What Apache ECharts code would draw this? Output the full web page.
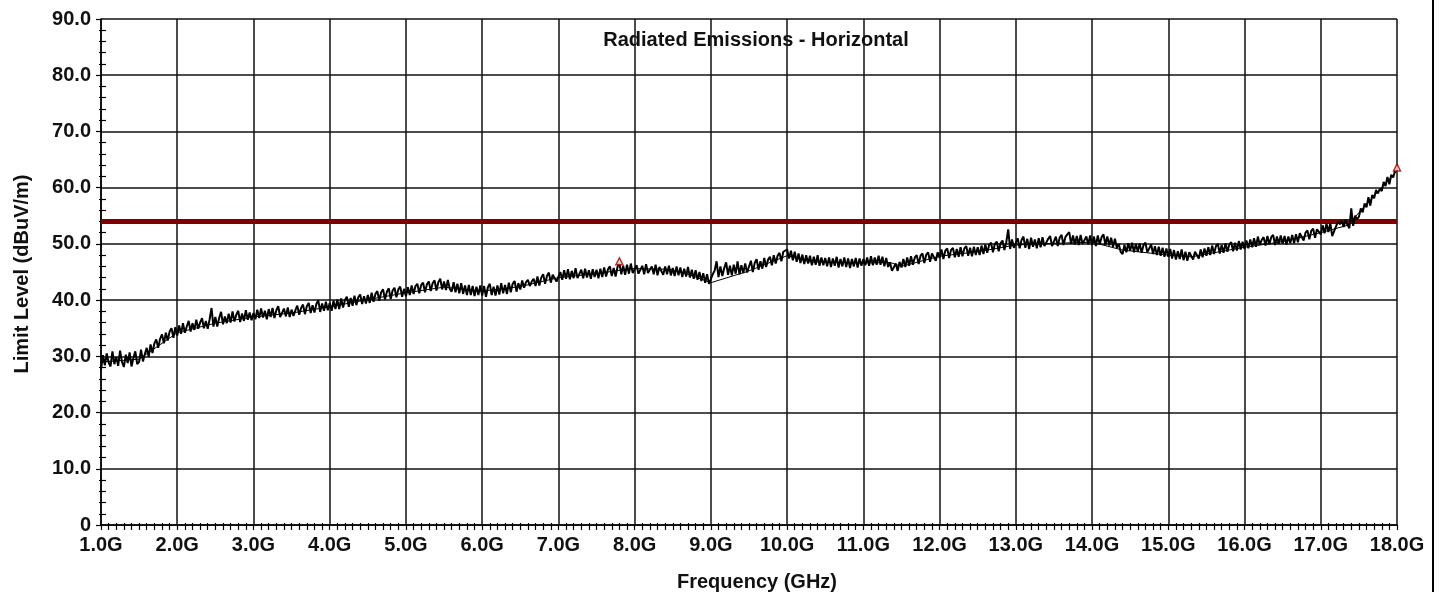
<!DOCTYPE html>
<html>
<head>
<meta charset="utf-8">
<title>Radiated Emissions - Horizontal</title>
<script src="https://cdn.jsdelivr.net/npm/echarts@6/dist/echarts.min.js"></script>
<style>
  html, body { margin: 0; padding: 0; background: #fff; }
  #chart { width: 1443px; height: 592px; }
</style>
</head>
<body>
<div id="chart"></div>
<script>
// Sweep settings: 1 GHz to 18 GHz in 25 MHz steps
const FREQ_START = 1.0;
const FREQ_STEP = 0.025;

// Measured level (dBuV/m), one row per 0.5 GHz
const level = [
  27.6, 30.2, 28.4, 30.5, 28.9, 28.2, 30.9, 28.6, 29.9, 28.3, 31.0, 29.0, 28.1, 30.3, 28.8, 30.7, 28.2, 29.7, 30.9, 28.6,
  29.0, 31.2, 29.1, 30.4, 31.5, 29.9, 32.1, 30.6, 32.3, 33.0, 31.5, 33.1, 33.9, 32.3, 34.2, 32.8, 34.4, 35.0, 33.3, 35.2,
  33.7, 35.5, 34.0, 35.9, 34.2, 35.3, 36.3, 34.4, 35.9, 34.7, 36.5, 34.9, 36.0, 36.8, 35.0, 36.3, 34.9, 36.6, 38.6, 35.3,
  37.0, 35.3, 36.8, 37.9, 35.7, 37.1, 35.9, 37.6, 36.0, 38.0, 36.2, 37.4, 38.1, 36.1, 37.6, 36.3, 38.2, 36.5, 37.8, 36.4,
  37.7, 36.6, 38.3, 36.8, 38.5, 36.9, 38.1, 36.6, 38.4, 37.0, 38.6, 36.8, 38.2, 38.9, 37.0, 36.9, 38.5, 37.1, 38.7, 37.0,
  38.3, 37.2, 38.2, 39.0, 37.4, 38.6, 39.2, 37.5, 38.9, 39.5, 37.7, 39.1, 37.8, 39.3, 40.0, 37.9, 39.4, 38.1, 39.7, 38.2,
  39.5, 38.1, 39.9, 38.4, 40.1, 38.4, 40.3, 38.7, 40.0, 40.6, 38.8, 40.4, 39.0, 40.8, 39.1, 40.5, 41.0, 39.3, 40.7, 39.4,
  40.9, 39.5, 41.3, 39.7, 41.1, 41.6, 39.9, 41.4, 41.9, 40.1, 41.5, 42.1, 40.2, 41.7, 42.2, 40.5, 41.9, 42.4, 40.6, 42.0,
  40.7, 42.3, 40.9, 42.6, 41.1, 42.5, 42.9, 41.2, 42.7, 43.1, 41.4, 42.8, 43.3, 41.6, 43.0, 43.5, 41.7, 43.2, 43.8, 41.9,
  43.3, 41.8, 43.6, 42.0, 41.5, 43.2, 41.4, 42.9, 41.2, 43.0, 41.1, 42.6, 40.9, 42.7, 40.9, 42.5, 40.7, 42.4, 40.9, 42.6,
  40.8, 42.5, 40.6, 42.3, 42.9, 40.9, 42.4, 40.8, 42.6, 41.0, 43.0, 41.2, 42.7, 41.1, 43.1, 41.4, 42.9, 43.4, 41.5, 43.0,
  41.9, 43.5, 42.2, 43.2, 43.6, 42.5, 43.3, 43.8, 42.5, 44.2, 42.6, 44.0, 44.6, 42.9, 44.3, 44.9, 43.1, 44.5, 44.8, 43.3,
  43.5, 45.0, 43.6, 45.3, 43.8, 45.5, 43.7, 45.2, 43.9, 45.7, 43.9, 43.8, 45.4, 43.9, 45.6, 44.0, 45.3, 43.8, 45.5, 44.1,
  45.4, 43.9, 45.6, 44.1, 45.8, 44.2, 45.5, 46.0, 44.3, 45.7, 44.2, 45.9, 46.6, 44.6, 46.1, 44.5, 46.3, 44.7, 46.5, 44.8,
  44.6, 46.2, 44.7, 44.4, 46.1, 44.6, 46.4, 44.8, 44.5, 46.0, 44.6, 46.3, 44.4, 45.9, 46.2, 44.5, 46.0, 44.6, 46.1, 44.4,
  45.7, 44.3, 46.0, 44.4, 45.8, 44.1, 45.6, 44.2, 45.9, 44.0, 45.4, 43.8, 45.3, 43.6, 45.0, 43.4, 44.8, 43.1, 44.6, 42.9,
  42.9, 44.6, 45.3, 46.9, 44.1, 46.0, 44.3, 45.7, 46.7, 44.5, 46.1, 44.4, 46.3, 44.7, 46.9, 44.6, 46.2, 44.8, 46.5, 44.9,
  45.2, 47.0, 45.0, 46.6, 47.3, 45.4, 46.9, 45.6, 47.5, 45.9, 47.2, 47.7, 46.2, 48.0, 46.5, 47.9, 48.4, 46.9, 48.6, 48.9,
  49.0, 47.4, 48.8, 47.1, 48.6, 46.8, 48.3, 46.6, 48.1, 46.4, 48.0, 46.5, 47.9, 46.2, 47.7, 46.3, 48.0, 46.1, 47.6, 46.2,
  47.5, 46.0, 47.6, 45.9, 47.4, 46.1, 47.7, 45.8, 47.3, 46.0, 47.6, 45.9, 47.4, 45.7, 47.3, 46.0, 47.5, 45.8, 47.4, 46.1,
  47.3, 46.2, 47.6, 46.1, 47.8, 46.2, 47.6, 46.3, 47.9, 46.3, 47.7, 46.0, 47.5, 45.9, 46.7, 45.2, 44.9, 46.5, 45.2, 46.8,
  45.8, 47.3, 45.9, 47.6, 46.1, 47.8, 46.3, 47.6, 48.0, 46.4, 47.9, 48.3, 46.6, 48.1, 48.5, 46.8, 48.3, 48.6, 47.0, 48.5,
  47.5, 49.0, 47.3, 48.8, 49.2, 47.5, 48.9, 49.3, 47.6, 49.1, 47.7, 49.4, 47.8, 49.2, 49.6, 47.9, 49.3, 47.8, 49.5, 48.0,
  49.4, 48.0, 49.7, 48.2, 49.9, 48.4, 49.8, 50.2, 48.5, 50.0, 50.4, 48.7, 50.1, 50.6, 48.9, 50.3, 52.6, 49.1, 50.8, 49.3,
  49.4, 51.0, 49.2, 50.7, 51.3, 49.3, 50.9, 49.1, 51.1, 49.5, 50.8, 49.2, 51.0, 49.4, 51.2, 49.6, 49.3, 50.9, 51.4, 49.6,
  49.7, 51.3, 49.6, 51.1, 51.6, 49.8, 51.2, 51.7, 52.1, 50.0, 51.5, 49.9, 51.4, 49.8, 51.6, 50.0, 49.7, 51.3, 49.9, 51.5,
  49.8, 51.3, 49.6, 51.5, 49.9, 51.2, 51.7, 49.8, 51.3, 49.7, 51.1, 49.5, 50.9, 49.3, 50.0, 48.6, 48.2, 49.8, 48.5, 50.1,
  48.8, 50.2, 48.5, 50.0, 48.6, 50.1, 48.4, 49.8, 50.2, 48.5, 48.3, 49.9, 48.2, 49.6, 48.0, 49.5, 47.9, 49.3, 47.7, 49.2,
  47.7, 49.1, 47.4, 48.9, 47.2, 48.7, 47.3, 49.0, 47.1, 48.6, 47.0, 48.5, 48.8, 47.2, 48.6, 48.9, 47.4, 49.0, 47.6, 49.2,
  47.9, 49.4, 48.0, 49.7, 48.2, 49.6, 50.0, 48.3, 49.8, 48.4, 50.1, 48.6, 49.9, 50.3, 48.7, 50.2, 48.8, 50.5, 49.0, 50.4,
  49.1, 50.6, 49.2, 50.8, 49.4, 51.0, 49.5, 51.3, 49.8, 50.7, 51.2, 49.7, 51.4, 49.9, 51.2, 51.6, 49.8, 51.3, 50.0, 51.5,
  50.0, 51.4, 49.9, 51.3, 50.1, 51.6, 50.1, 51.7, 50.3, 51.9, 52.1, 50.6, 52.0, 52.4, 50.8, 52.3, 52.7, 51.1, 52.6, 52.9,
  51.7, 53.3, 51.9, 53.6, 52.1, 53.7, 51.4, 51.1, 53.1, 53.9, 53.5, 54.1, 53.0, 54.3, 53.4, 52.8, 56.3, 53.2, 55.0, 54.4,
  54.8, 56.3, 55.6, 57.2, 56.5, 58.3, 56.8, 58.7, 58.1, 59.6, 59.0, 59.8, 59.4, 61.0, 60.3, 61.9, 60.6, 62.3, 61.8, 63.0,
  63.2
];

// Reduced trace (GHz, dBuV/m)
const reducedFreq  = [1.0, 1.5, 2.0, 2.5, 3.0, 3.5, 4.0, 4.5, 5.0, 5.5, 6.0, 6.5, 7.0, 7.5, 7.95, 8.45, 8.7, 9.0, 9.48, 10.0, 10.3, 11.0, 11.35, 11.5, 12.0, 12.5, 13.0, 13.5, 14.0, 14.4, 15.0, 15.3, 16.0, 16.5, 17.0, 17.35, 18.0];
const reducedLevel = [29.0, 29.5, 34.2, 35.9, 37.0, 37.7, 38.8, 40.1, 41.3, 42.3, 41.6, 42.4, 44.0, 44.7, 45.6, 45.5, 44.6, 43.1, 45.1, 47.9, 46.8, 46.6, 46.7, 46.0, 47.8, 48.6, 49.8, 50.1, 50.3, 48.9, 48.0, 47.7, 49.4, 50.4, 52.0, 53.3, 63.0];

// Peak markers
const peakFreq  = [7.8, 18.0];
const peakLevel = [46.9, 63.6];

// Limit line
const limitFreq  = [1.0, 18.0];
const limitLevel = [54.0, 54.0];

// Axis tick labels
const xTickLabels = ['1.0G', '2.0G', '3.0G', '4.0G', '5.0G', '6.0G', '7.0G', '8.0G', '9.0G',
  '10.0G', '11.0G', '12.0G', '13.0G', '14.0G', '15.0G', '16.0G', '17.0G', '18.0G'];
const yTickLabels = ['0', '10.0', '20.0', '30.0', '40.0', '50.0', '60.0', '70.0', '80.0', '90.0'];

const FONT = "'Liberation Sans', Arial, sans-serif";

const sweep = level.map((v, i) => [+(FREQ_START + i * FREQ_STEP).toFixed(3), v]);
const reduced = reducedFreq.map((f, i) => [f, reducedLevel[i]]);
const peaks = peakFreq.map((f, i) => [f, peakLevel[i]]);
const limit = limitFreq.map((f, i) => [f, limitLevel[i]]);

const chart = echarts.init(document.getElementById('chart'), null, { renderer: 'canvas' });

const labelStyle = { color: '#111', fontFamily: FONT, fontWeight: 'bold', fontSize: 20 };

const xBase = { type: 'value', min: 1, max: 18, interval: 1, position: 'bottom', gridIndex: 0 };
const yBase = { type: 'value', min: 0, max: 90, interval: 10, position: 'left', gridIndex: 0 };

chart.setOption({
  animation: false,
  backgroundColor: '#fff',
  grid: { left: 101, right: 46, top: 19, bottom: 67, containLabel: false },
  xAxis: [
    Object.assign({}, xBase, {
      axisLine: { show: true, lineStyle: { color: '#000', width: 1.5 } },
      axisTick: { show: true, inside: false, length: 5, lineStyle: { color: '#000', width: 1.2 } },
      minorTick: { show: true, splitNumber: 10, length: 5, lineStyle: { color: '#000', width: 1.2 } },
      axisLabel: Object.assign({}, labelStyle, {
        margin: 10,
        formatter: v => xTickLabels[Math.round(v - 1)] ?? ''
      }),
      splitLine: { show: true, lineStyle: { color: '#111', width: 1.5 } }
    }),
    Object.assign({}, xBase, {
      axisLine: { show: false },
      axisTick: { show: false, inside: true },
      minorTick: { show: true, splitNumber: 10, length: 2, lineStyle: { color: '#000', width: 1.2 } },
      axisLabel: { show: false },
      splitLine: { show: false }
    })
  ],
  yAxis: [
    Object.assign({}, yBase, {
      axisLine: { show: true, lineStyle: { color: '#000', width: 1.5 } },
      axisTick: { show: true, inside: false, length: 5, lineStyle: { color: '#000', width: 1.2 } },
      minorTick: { show: true, splitNumber: 5, length: 2, lineStyle: { color: '#000', width: 1.2 } },
      axisLabel: Object.assign({}, labelStyle, {
        margin: 10,
        formatter: v => yTickLabels[Math.round(v / 10)] ?? ''
      }),
      splitLine: { show: true, lineStyle: { color: '#111', width: 1.5 } }
    }),
    Object.assign({}, yBase, {
      axisLine: { show: false },
      axisTick: { show: false, inside: true },
      minorTick: { show: true, splitNumber: 5, length: 5, lineStyle: { color: '#000', width: 1.2 } },
      axisLabel: { show: false },
      splitLine: { show: false }
    })
  ],
  series: [
    {
      name: 'Limit',
      type: 'line',
      data: limit,
      showSymbol: false,
      lineStyle: { color: '#800000', width: 5 },
      z: 2
    },
    {
      name: 'Reduced',
      type: 'line',
      data: reduced,
      showSymbol: false,
      lineStyle: { color: '#000', width: 1 },
      z: 3
    },
    {
      name: 'Level',
      type: 'line',
      data: sweep,
      showSymbol: false,
      sampling: null,
      lineStyle: { color: '#000', width: 2 },
      z: 4
    },
    {
      name: 'Peaks',
      type: 'scatter',
      data: peaks,
      symbol: 'triangle',
      symbolSize: [7, 7],
      itemStyle: { color: '#ffe0e0', borderColor: '#a00000', borderWidth: 1.5 },
      z: 5
    }
  ],
  graphic: [
    {
      type: 'text', x: 756, y: 40,
      style: { text: 'Radiated Emissions - Horizontal', font: 'bold 20px ' + FONT, fill: '#111', align: 'center', verticalAlign: 'middle' }
    },
    {
      type: 'text', x: 757, y: 582,
      style: { text: 'Frequency (GHz)', font: 'bold 20px ' + FONT, fill: '#111', align: 'center', verticalAlign: 'middle' }
    },
    {
      type: 'text', x: 22, y: 274, rotation: Math.PI / 2,
      style: { text: 'Limit Level (dBuV/m)', font: 'bold 20px ' + FONT, fill: '#111', align: 'center', verticalAlign: 'middle' }
    },
    {
      type: 'rect', shape: { x: 1432, y: 0, width: 2, height: 592 },
      style: { fill: '#000' }
    }
  ]
});
</script>
</body>
</html>
